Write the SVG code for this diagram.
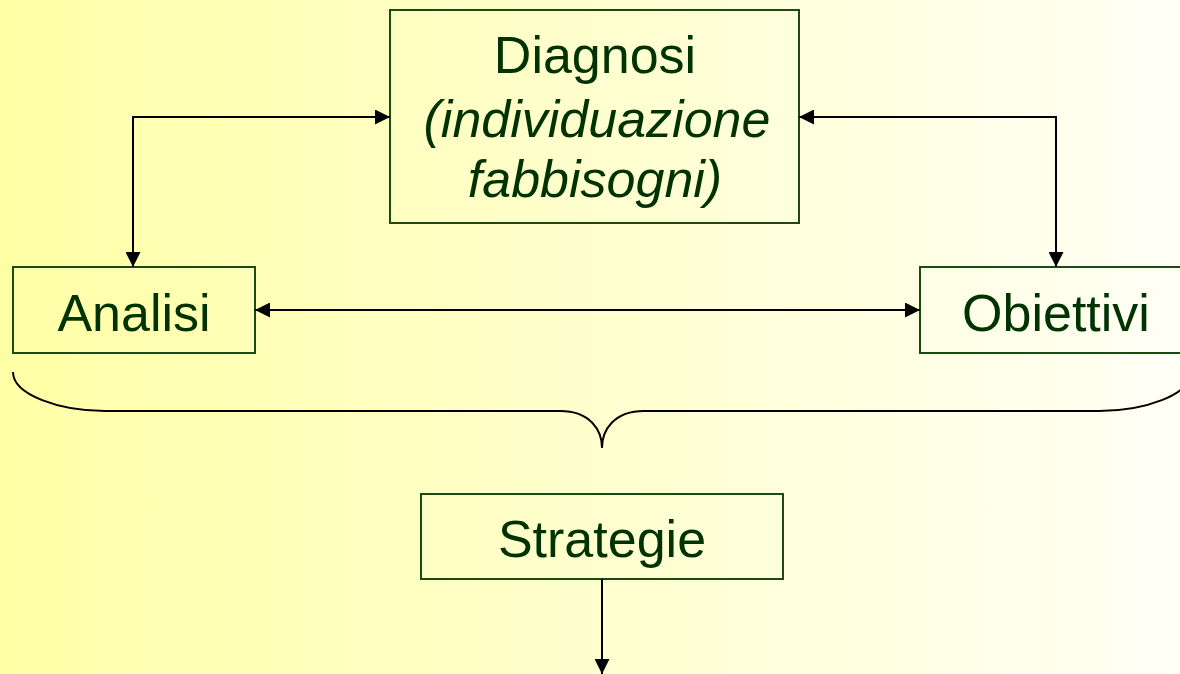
<svg xmlns="http://www.w3.org/2000/svg" width="1180" height="674" viewBox="0 0 1180 674">
<defs>
<linearGradient id="bg" x1="0" y1="0" x2="1" y2="0">
<stop offset="0" stop-color="#ffffa6"/>
<stop offset="1" stop-color="#fffff6"/>
</linearGradient>
<marker id="ah" viewBox="0 0 10 10" refX="10" refY="5" markerWidth="15" markerHeight="15" markerUnits="userSpaceOnUse" orient="auto-start-reverse">
<path d="M0,0 L10,5 L0,10 z" fill="#000"/>
</marker>
<style>
.box{fill:none;stroke:#1b4a12;stroke-width:2}
.t{font-family:"Liberation Sans",Arial,sans-serif;font-size:52px;fill:#003300;text-anchor:middle}
.i{font-style:italic}
.c{fill:none;stroke:#000;stroke-width:2}
</style>
</defs>
<rect width="1180" height="674" fill="url(#bg)"/>
<g id="diagnosi">
<rect class="box" x="390" y="10" width="409" height="213"/>
<text class="t" x="595" y="73">Diagnosi</text>
<text class="t i" x="597" y="137">(individuazione</text>
<text class="t i" x="595" y="197">fabbisogni)</text>
</g>
<g id="analisi">
<rect class="box" x="13" y="267" width="242" height="86"/>
<text class="t" x="134" y="331">Analisi</text>
</g>
<g id="obiettivi">
<rect class="box" x="920" y="267" width="272" height="86"/>
<text class="t" x="1056" y="331">Obiettivi</text>
</g>
<g id="strategie">
<rect class="box" x="421" y="494" width="362" height="85"/>
<text class="t" x="602" y="557">Strategie</text>
</g>
<g id="connectors">
<path class="c" d="M133,267 V117 H390" marker-start="url(#ah)" marker-end="url(#ah)"/>
<path class="c" d="M799,117 H1056 V267" marker-start="url(#ah)" marker-end="url(#ah)"/>
<path class="c" d="M255,310 H920" marker-start="url(#ah)" marker-end="url(#ah)"/>
<path class="c" d="M602,579 V674" marker-end="url(#ah)"/>
<path class="c" d="M13,372 C13,395 60,411 105,411 H560 C590,411 602,430 602,448 C602,430 614,411 644,411 H1099 C1144,411 1191,395 1191,372"/>
</g>
</svg>
